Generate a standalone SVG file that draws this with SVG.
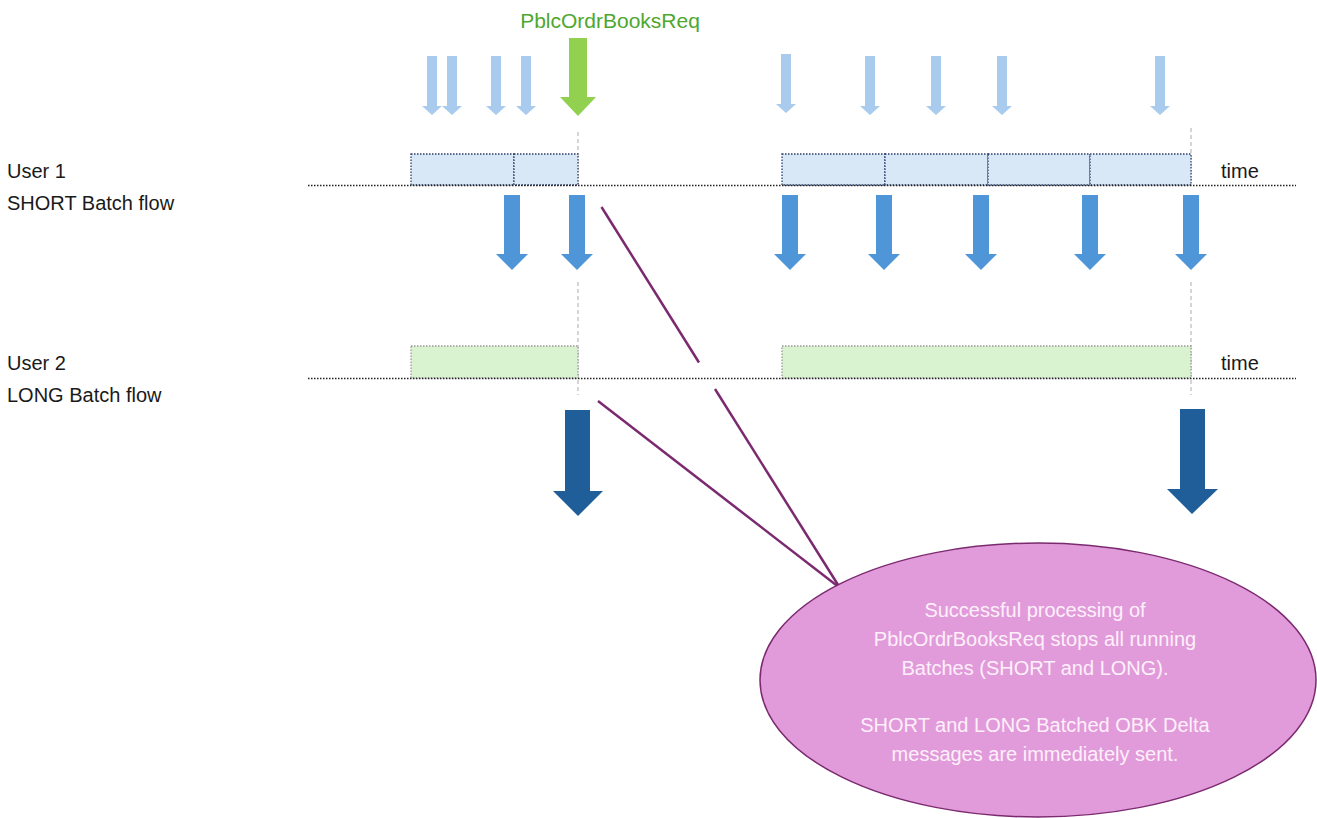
<svg xmlns="http://www.w3.org/2000/svg" width="1317" height="818" viewBox="0 0 1317 818">
<defs>
<style>
.lbl{font-family:"Liberation Sans",Arial,sans-serif;font-size:20px;fill:#1a1a1a}
.callt{font-family:"Liberation Sans",Arial,sans-serif;font-size:20px;fill:#fdf0fb;text-anchor:middle}
.base{stroke:#222;stroke-width:1.5;stroke-dasharray:1.5 1.5;fill:none}
.guide{stroke:#c8c8c8;stroke-width:1.5;stroke-dasharray:4 3;fill:none}
.b1{fill:#d9e8f7;stroke:#2f3d6e;stroke-width:1.3;stroke-dasharray:1.5 1.5}
.b2{fill:#d9f2d0;stroke:#9a9a9a;stroke-width:1.3;stroke-dasharray:1.5 1.5}
.la{fill:#a8cbee}
.ma{fill:#4f96d9}
.da{fill:#1f5e99}
.ga{fill:#92d050}
.co{stroke:#7b2a70;stroke-width:2.5;fill:none}
</style>
</defs>
<rect width="1317" height="818" fill="#ffffff"/>

<g id="labels">
<text class="lbl" x="7" y="178">User 1</text>
<text class="lbl" x="7" y="210">SHORT Batch flow</text>
<text class="lbl" x="7" y="370">User 2</text>
<text class="lbl" x="7" y="402">LONG Batch flow</text>
<text class="lbl" x="1221" y="178">time</text>
<text class="lbl" x="1221" y="370">time</text>
<text x="610" y="28" style="font-family:'Liberation Sans',Arial,sans-serif;font-size:21px;fill:#4ea72e" text-anchor="middle">PblcOrdrBooksReq</text>
</g>

<g id="timelines">
<line class="guide" x1="578" y1="132" x2="578" y2="185"/>
<line class="guide" x1="578" y1="282" x2="578" y2="395"/>
<line class="guide" x1="1191" y1="128" x2="1191" y2="185"/>
<line class="guide" x1="1191" y1="282" x2="1191" y2="395"/>
<rect class="b1" x="411" y="154" width="103" height="31"/>
<rect class="b1" x="514" y="154" width="64" height="31"/>
<rect class="b1" x="782" y="154" width="103" height="31"/>
<rect class="b1" x="885" y="154" width="103" height="31"/>
<rect class="b1" x="988" y="154" width="102" height="31"/>
<rect class="b1" x="1090" y="154" width="101" height="31"/>
<rect class="b2" x="411" y="346" width="167" height="32"/>
<rect class="b2" x="782" y="346" width="409" height="32"/>
<line class="base" x1="308" y1="185.5" x2="1296" y2="185.5"/>
<line class="base" x1="308" y1="378.5" x2="1296" y2="378.5"/>
</g>

<g id="input-arrows">
<path class="la" transform="translate(432,0)" d="M-5,56 H5 V106 H10 L0,115 L-10,106 H-5 Z"/>
<path class="la" transform="translate(452,0)" d="M-5,56 H5 V106 H10 L0,115 L-10,106 H-5 Z"/>
<path class="la" transform="translate(496,0)" d="M-5,56 H5 V106 H10 L0,115 L-10,106 H-5 Z"/>
<path class="la" transform="translate(526,0)" d="M-5,56 H5 V106 H10 L0,115 L-10,106 H-5 Z"/>
<path class="la" transform="translate(786,-2)" d="M-5,56 H5 V106 H10 L0,115 L-10,106 H-5 Z"/>
<path class="la" transform="translate(870,0)" d="M-5,56 H5 V106 H10 L0,115 L-10,106 H-5 Z"/>
<path class="la" transform="translate(936,0)" d="M-5,56 H5 V106 H10 L0,115 L-10,106 H-5 Z"/>
<path class="la" transform="translate(1002,0)" d="M-5,56 H5 V106 H10 L0,115 L-10,106 H-5 Z"/>
<path class="la" transform="translate(1160,0)" d="M-5,56 H5 V106 H10 L0,115 L-10,106 H-5 Z"/>
<path class="ga" d="M569,38 H587 V97 H596 L578,116 L560,97 H569 Z"/>
</g>

<g id="short-output-arrows">
<path class="ma" transform="translate(512,0)" d="M-8,195 H8 V254 H16 L0,270 L-16,254 H-8 Z"/>
<path class="ma" transform="translate(577,0)" d="M-8,195 H8 V254 H16 L0,270 L-16,254 H-8 Z"/>
<path class="ma" transform="translate(790,0)" d="M-8,195 H8 V254 H16 L0,270 L-16,254 H-8 Z"/>
<path class="ma" transform="translate(884,0)" d="M-8,195 H8 V254 H16 L0,270 L-16,254 H-8 Z"/>
<path class="ma" transform="translate(981,0)" d="M-8,195 H8 V254 H16 L0,270 L-16,254 H-8 Z"/>
<path class="ma" transform="translate(1090,0)" d="M-8,195 H8 V254 H16 L0,270 L-16,254 H-8 Z"/>
<path class="ma" transform="translate(1191,0)" d="M-8,195 H8 V254 H16 L0,270 L-16,254 H-8 Z"/>
</g>

<g id="long-output-arrows">
<path class="da" d="M565,410 H590 V491 H603 L578,516 L553,491 H565 Z"/>
<path class="da" d="M1180,409 H1205 V489 H1218 L1192,514 L1167,489 H1180 Z"/>
</g>

<g id="connectors">
<line class="co" x1="601.5" y1="207" x2="699" y2="362.5"/>
<line class="co" x1="715" y1="389" x2="840" y2="588"/>
<line class="co" x1="598" y1="401" x2="840" y2="588"/>
</g>

<g id="callout">
<ellipse cx="1038" cy="680" rx="278" ry="137" fill="#e29bda" stroke="#7b2a70" stroke-width="1.5"/>
<text class="callt" x="1035" y="617">Successful processing of</text>
<text class="callt" x="1035" y="646">PblcOrdrBooksReq stops all running</text>
<text class="callt" x="1035" y="675">Batches (SHORT and LONG).</text>
<text class="callt" x="1035" y="732">SHORT and LONG Batched OBK Delta</text>
<text class="callt" x="1035" y="761">messages are immediately sent.</text>
</g>
</svg>
